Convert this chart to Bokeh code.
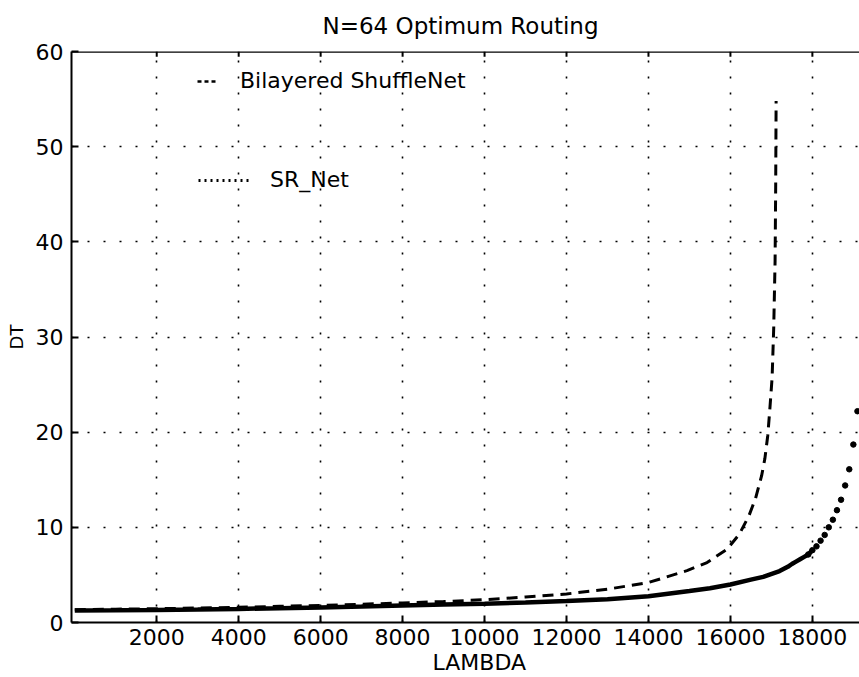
from bokeh.plotting import figure
from bokeh.models import FixedTicker, Legend, LegendItem, Range1d, Span, Title
from bokeh.embed import file_html
from bokeh.resources import INLINE

title_text = "N=64 Optimum Routing"
x_label = "LAMBDA"
y_label = "DT"
x_ticks = [2000, 4000, 6000, 8000, 10000, 12000, 14000, 16000, 18000]
y_ticks = [0, 10, 20, 30, 40, 50, 60]

shuffle_name = "Bilayered ShuffleNet"
shuffle_lambda = [0, 1000, 2000, 3000, 4000, 5000, 6000, 7000, 8000, 9000, 10000,
                  11000, 12000, 13000, 14000, 14940, 15430, 15920, 16220, 16450,
                  16610, 16760, 16840, 16910, 16960, 17017, 17057, 17090, 17105, 17115]
shuffle_dt = [1.35, 1.4, 1.45, 1.52, 1.6, 1.7, 1.8, 1.92, 2.05, 2.2, 2.4,
              2.68, 3.0, 3.5, 4.2, 5.45, 6.3, 7.7, 9.3, 11.2,
              13.0, 15.4, 17.2, 19.6, 22.3, 25.7, 31.0, 38.0, 46.0, 54.8]

srnet_name = "SR_Net"
srnet_lambda = [0, 1000, 2000, 3000, 4000, 5000, 6000, 7000, 8000, 9000, 10000,
                11000, 12000, 13000, 14000, 15000, 15500, 16000, 16500, 16800,
                17200, 17400, 17500, 17600, 17700, 17800, 17900, 18000, 18100,
                18200, 18300, 18400, 18500, 18600, 18700, 18800, 18900, 19000, 19100]
srnet_dt = [1.25, 1.28, 1.32, 1.37, 1.43, 1.5, 1.58, 1.67, 1.78, 1.88, 1.98,
            2.1, 2.25, 2.45, 2.75, 3.3, 3.6, 4.0, 4.5, 4.8,
            5.4, 5.85, 6.15, 6.4, 6.65, 6.9, 7.15, 7.6, 8.0,
            8.6, 9.2, 10.0, 10.8, 11.8, 12.9, 14.4, 16.1, 18.7, 22.2]

FONT = "DejaVu Sans"
FS = "22px"

p = figure(width=859, height=677, x_range=Range1d(-80, 19150), y_range=Range1d(0, 60),
           output_backend="svg", toolbar_location=None,
           min_border_left=71, min_border_right=0, min_border_top=51, min_border_bottom=55,
           y_axis_label=y_label)
p.background_fill_color = "white"
p.border_fill_color = "white"
p.outline_line_color = None

p.title.text = title_text
p.title.align = "left"
p.title.offset = 251
p.title.vertical_align = "top"
p.title.standoff = 22
p.title.text_font = FONT
p.title.text_font_size = "23px"
p.title.text_font_style = "normal"
p.title.text_color = "black"

for ax in (p.xaxis[0], p.yaxis[0]):
    ax.axis_line_width = 2
    ax.axis_line_color = "black"
    ax.major_tick_in = 7
    ax.major_tick_out = 0
    ax.major_tick_line_width = 2
    ax.minor_tick_line_color = None
    ax.major_label_text_font = FONT
    ax.major_label_text_font_size = FS
    ax.major_label_text_color = "black"
    ax.axis_label_text_font = FONT
    ax.axis_label_text_font_style = "normal"
    ax.axis_label_text_color = "black"

p.xaxis[0].ticker = FixedTicker(ticks=x_ticks)
p.yaxis[0].ticker = FixedTicker(ticks=y_ticks)
p.xaxis[0].major_label_standoff = 6
p.yaxis[0].major_label_standoff = 8
p.yaxis[0].axis_label_standoff = 6
p.yaxis[0].axis_label_text_font_size = "18px"

xlab = Title(text=x_label, align="left", offset=361, text_font=FONT,
             text_font_size=FS, text_font_style="normal", text_color="black", standoff=0)
p.add_layout(xlab, "below")

# top border with inward ticks
p.add_layout(Span(location=60, dimension="width", line_color="black", line_width=2.5))
top_tick_len = 0.55
p.segment(x0=x_ticks, y0=[60] * len(x_ticks), x1=x_ticks,
          y1=[60 - top_tick_len] * len(x_ticks), line_color="black", line_width=2)

p.xgrid.ticker = FixedTicker(ticks=x_ticks)
p.ygrid.ticker = FixedTicker(ticks=y_ticks)
for g in (p.xgrid[0], p.ygrid[0]):
    g.grid_line_color = "black"
    g.grid_line_dash = "2 14"
    g.grid_line_width = 1.6

# Bilayered ShuffleNet (dashed)
p.line(shuffle_lambda, shuffle_dt, line_color="black", line_width=3, line_dash="11 7")

# SR_Net: dense part looks solid, steep part shows separate dots
n_split = srnet_lambda.index(18000) + 1
p.line(srnet_lambda[:n_split], srnet_dt[:n_split], line_color="black", line_width=4.5)
dots_from = srnet_lambda.index(17900)
p.scatter(srnet_lambda[dots_from:], srnet_dt[dots_from:], size=5.5, color="black")

# legend proxies (no visible data)
nan = float("nan")
leg_dash = p.line(x=[nan], y=[nan], line_color="black", line_width=2.5, line_dash="4 3")
leg_dot = p.line(x=[nan], y=[nan], line_color="black", line_width=3, line_dash="2 4")

leg1 = Legend(items=[LegendItem(label=shuffle_name, renderers=[leg_dash])],
              location=(126, 529), glyph_width=21, label_standoff=22,
              padding=0, margin=0, border_line_color=None, background_fill_alpha=0,
              label_text_font=FONT, label_text_font_size=FS, label_text_color="black")
leg2 = Legend(items=[LegendItem(label=srnet_name, renderers=[leg_dot])],
              location=(127, 430), glyph_width=51, label_standoff=21,
              padding=0, margin=0, border_line_color=None, background_fill_alpha=0,
              label_text_font=FONT, label_text_font_size=FS, label_text_color="black")
p.add_layout(leg1, "center")
p.add_layout(leg2, "center")

open("out.html", "w").write(file_html(p, INLINE))
